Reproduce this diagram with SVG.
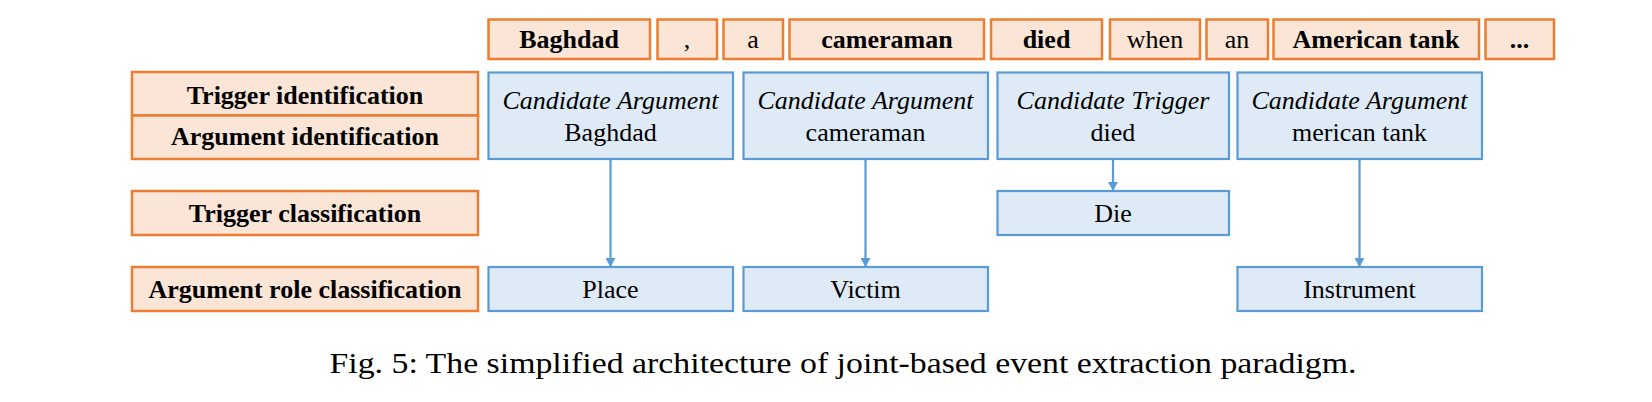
<svg xmlns="http://www.w3.org/2000/svg" width="1652" height="402" viewBox="0 0 1652 402">
<style>
.o{fill:#FBE5D6;stroke:#ED7D31;stroke-width:2.5}
.b{fill:#DEEBF7;stroke:#5B9BD5;stroke-width:2.2}
text{font-family:"Liberation Serif","Times New Roman",serif;font-size:26px;fill:#000;text-anchor:middle}
.bd{font-weight:bold}
.it{font-style:italic}
.cn{stroke:#5B9BD5;stroke-width:2.2;fill:none}
.cap{font-size:29px}
</style>
<defs>
<marker id="ah" markerWidth="10" markerHeight="10" refX="8" refY="5" orient="auto" markerUnits="userSpaceOnUse">
<path d="M0,0 L9,5 L0,10 z" fill="#5B9BD5"/>
</marker>
</defs>
<rect width="1652" height="402" fill="#fff"/>
<g id="words">
<g id="w-baghdad"><rect class="o" x="488.5" y="19.5" width="161.5" height="39.5"/><text class="bd" x="569" y="48">Baghdad</text></g>
<g id="w-comma"><rect class="o" x="657.5" y="19.5" width="59.5" height="39.5"/><text x="687" y="48">,</text></g>
<g id="w-a"><rect class="o" x="723.5" y="19.5" width="59.5" height="39.5"/><text x="753" y="48">a</text></g>
<g id="w-cameraman"><rect class="o" x="789.5" y="19.5" width="194.5" height="39.5"/><text class="bd" x="887" y="48">cameraman</text></g>
<g id="w-died"><rect class="o" x="991" y="19.5" width="111" height="39.5"/><text class="bd" x="1046.5" y="48">died</text></g>
<g id="w-when"><rect class="o" x="1110" y="19.5" width="90" height="39.5"/><text x="1155" y="48">when</text></g>
<g id="w-an"><rect class="o" x="1206.5" y="19.5" width="61.5" height="39.5"/><text x="1237" y="48">an</text></g>
<g id="w-american"><rect class="o" x="1273.5" y="19.5" width="205.5" height="39.5"/><text class="bd" x="1376" y="48">American tank</text></g>
<g id="w-dots"><rect class="o" x="1485.5" y="19.5" width="68.5" height="39.5"/><text class="bd" x="1519.5" y="48">...</text></g>
</g>
<g id="label-trigger-id"><rect class="o" x="132" y="72" width="346" height="43.5"/><text class="bd" x="305" y="104">Trigger identification</text></g>
<g id="label-argument-id"><rect class="o" x="132" y="115.5" width="346" height="43.5"/><text class="bd" x="305" y="145">Argument identification</text></g>
<g id="label-trigger-cls"><rect class="o" x="132" y="191" width="346" height="44"/><text class="bd" x="305" y="222">Trigger classification</text></g>
<g id="label-argrole-cls"><rect class="o" x="132" y="267" width="346" height="44"/><text class="bd" x="305" y="298">Argument role classification</text></g>
<g id="cand-baghdad"><rect class="b" x="488.5" y="72.5" width="244.5" height="86.5"/><text class="it" x="610.5" y="109">Candidate Argument</text><text x="610.5" y="141">Baghdad</text></g>
<g id="cand-cameraman"><rect class="b" x="743.5" y="72.5" width="244.5" height="86.5"/><text class="it" x="865.5" y="109">Candidate Argument</text><text x="865.5" y="141">cameraman</text></g>
<g id="cand-died"><rect class="b" x="997.5" y="72.5" width="231.5" height="86.5"/><text class="it" x="1113" y="109">Candidate Trigger</text><text x="1113" y="141">died</text></g>
<g id="cand-tank"><rect class="b" x="1237.5" y="72.5" width="244.5" height="86.5"/><text class="it" x="1359.5" y="109">Candidate Argument</text><text x="1359.5" y="141">merican tank</text></g>
<g id="die"><rect class="b" x="997.5" y="191" width="231.5" height="44"/><text x="1113" y="222">Die</text></g>
<g id="place"><rect class="b" x="488.5" y="267" width="244.5" height="44"/><text x="610.5" y="298">Place</text></g>
<g id="victim"><rect class="b" x="743.5" y="267" width="244.5" height="44"/><text x="865.5" y="298">Victim</text></g>
<g id="instrument"><rect class="b" x="1237.5" y="267" width="244.5" height="44"/><text x="1359.5" y="298">Instrument</text></g>
<g id="connectors">
<line class="cn" x1="610.5" y1="159" x2="610.5" y2="266" marker-end="url(#ah)"/>
<line class="cn" x1="865.5" y1="159" x2="865.5" y2="266" marker-end="url(#ah)"/>
<line class="cn" x1="1113" y1="159" x2="1113" y2="190" marker-end="url(#ah)"/>
<line class="cn" x1="1359.5" y1="159" x2="1359.5" y2="266" marker-end="url(#ah)"/>
</g>
<text class="cap" x="843" y="373" textLength="1027" lengthAdjust="spacingAndGlyphs">Fig. 5: The simplified architecture of joint-based event extraction paradigm.</text>
</svg>
